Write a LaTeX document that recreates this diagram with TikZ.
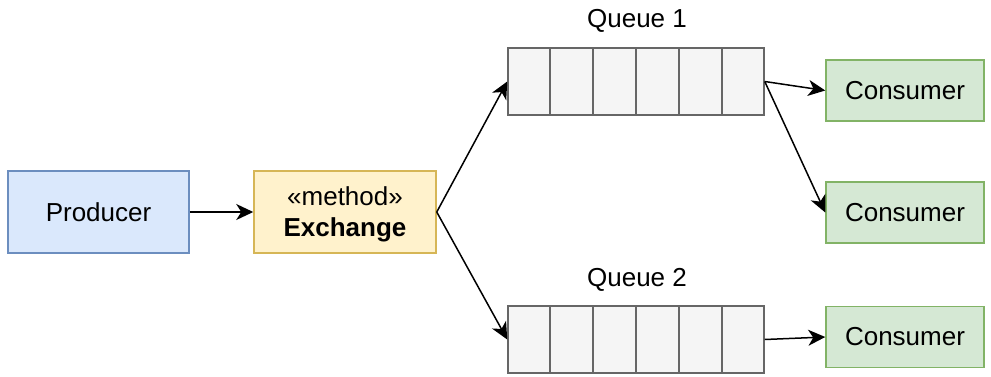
\documentclass[tikz,border=0pt]{standalone}
\usepackage{fontspec}
\setmainfont{Liberation Sans}
\usetikzlibrary{arrows.meta,calc}

\definecolor{prodfill}{HTML}{DAE8FC}
\definecolor{prodline}{HTML}{6C8EBF}
\definecolor{exfill}{HTML}{FFF2CC}
\definecolor{exline}{HTML}{D6B656}
\definecolor{qfill}{HTML}{F5F5F5}
\definecolor{qline}{HTML}{666666}
\definecolor{consfill}{HTML}{D5E8D4}
\definecolor{consline}{HTML}{82B366}

\tikzset{
  box/.style={draw, line width=0.75pt, inner sep=0pt, align=center,
    font=\fontsize{13}{15.5}\selectfont},
  producer/.style={box, fill=prodfill, draw=prodline, minimum width=90.5pt, minimum height=41pt},
  exchange/.style={box, fill=exfill, draw=exline, minimum width=91pt, minimum height=41pt},
  queue/.style={box, fill=qfill, draw=qline, minimum width=128pt, minimum height=33.5pt},
  consumer/.style={box, fill=consfill, draw=consline, minimum width=79pt, minimum height=30.5pt},
  qlabel/.style={inner sep=0pt, font=\fontsize{13}{15.5}\selectfont},
  link/.style={line width=0.75pt, -{Stealth[length=8.5pt,width=8pt,inset=2.5pt]}}
}

\begin{document}
\begin{tikzpicture}[x=0.5pt,y=-0.5pt]
  %%%%% START %%%%%
  \useasboundingbox (0,0) rectangle (991,376);

  \node[producer] (prod) at (98.5,212) {Producer};
  \node[exchange] (ex) at (345,212) {\rule{0pt}{12pt}«method»\\\textbf{Exchange}};

  % queues, six cells each
  \node[queue] (q1) at (636,81.5) {};
  \node[queue] (q2) at (636,339.5) {};
  \foreach \q in {q1,q2}
    \foreach \i in {1,...,5}
      \draw[qline, line width=0.75pt] ($(\q.north west)!\i/6!(\q.north east)$) -- ($(\q.south west)!\i/6!(\q.south east)$);
  \node[qlabel] (q1lab) at (637,21) {Queue 1};
  \node[qlabel] (q2lab) at (637,280) {Queue 2};

  \node[consumer] (c1) at (905,90.5) {Consumer};
  \node[consumer] (c2) at (905,212.5) {Consumer};
  \node[consumer] (c3) at (905,337) {Consumer};

  \draw[link] (prod) -- (ex);
  \draw[link] (ex.east) -- (q1.west);
  \draw[link] (ex.east) -- (q2.west);
  \draw[link] (q1.east) -- (c1.west);
  \draw[link] (q1.east) -- (c2.west);
  \draw[link] (q2.east) -- (c3.west);
  %%%%% END %%%%%
\end{tikzpicture}
\end{document}
